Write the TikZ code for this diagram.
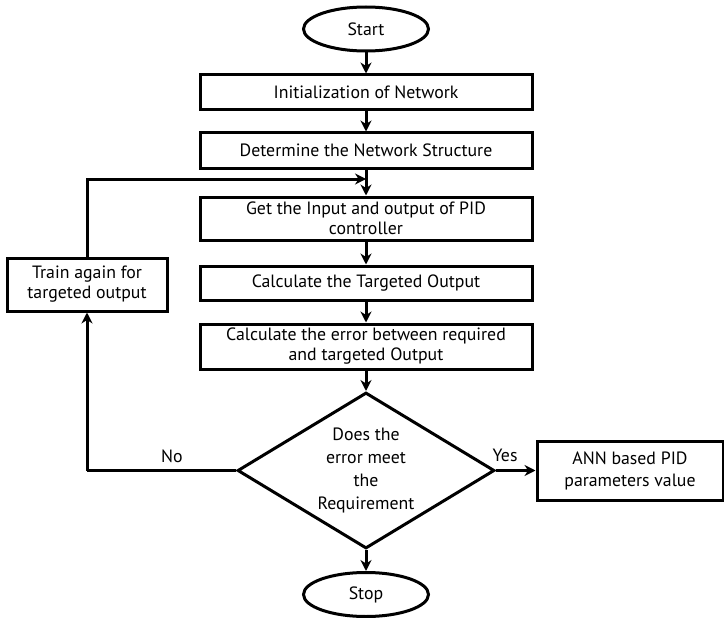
\documentclass[tikz,border=0pt]{standalone}
\usepackage{fontspec}
\setmainfont{PT Sans}
\usetikzlibrary{shapes.geometric,arrows.meta}
\begin{document}
\begin{tikzpicture}[x=1pt,y=-1pt,
  every node/.style={font=\fontsize{17.8}{20}\selectfont, align=center, inner sep=0pt},
  proc/.style={draw, line width=3pt, minimum width=332pt},
  term/.style={draw, ellipse, line width=3pt, minimum width=125pt, minimum height=44pt},
  decis/.style={draw, diamond, aspect=1.64, line width=3pt, minimum width=257pt, minimum height=156pt},
  conn/.style={line width=3pt, -{Stealth[length=11pt,width=11pt]}},
  plain/.style={line width=3pt}]
\useasboundingbox (0,0) rectangle (724,618);
\node[term] (start) at (366,29) {Start};
\node[proc, minimum height=35pt] (init) at (366,92.5) {Initialization of Network};
\node[proc, minimum height=35pt] (struct) at (366,150.5) {Determine the Network Structure};
\node[proc, minimum height=43pt] (getio) at (366,218.5) {Get the Input and output of PID\\controller};
\node[proc, minimum height=34pt] (target) at (366,283) {Calculate the Targeted Output};
\node[proc, minimum height=45pt] (err) at (366,346.5) {Calculate the error between required\\and targeted Output};
\node[decis, font=\fontsize{17.8}{23}\selectfont] (dec) at (366,470.5) {Does the\\error meet\\the\\Requirement};
\node[term] (stop) at (366,594.5) {Stop};
\node[draw, line width=3pt, minimum width=160pt, minimum height=53pt] (train) at (87,284.5) {Train again for\\targeted output};
\node[draw, line width=3pt, minimum width=186pt, minimum height=59pt, font=\fontsize{17.8}{22}\selectfont] (ann) at (630,470.5) {ANN based PID\\parameters value};
\coordinate (join) at (366,179);
\coordinate (loopb) at (87,470.5);
\coordinate (loopt) at (87,179);
\draw[conn] (start) -- (init);
\draw[conn] (init) -- (struct);
\draw[conn] (struct) -- (getio);
\draw[conn] (getio) -- (target);
\draw[conn] (target) -- (err);
\draw[conn] (err) -- (dec);
\draw[conn] (dec) -- (stop);
\draw[conn] (dec.east) -- (ann.west);
\draw[plain] (dec.west) -- (loopb);
\draw[conn] (loopb) -- (train.south);
\draw[conn] (train.north) -- (loopt) -- (join);
\node (yes) at (505,455) {Yes};
\node (no) at (172,456) {No};
\end{tikzpicture}
\end{document}
